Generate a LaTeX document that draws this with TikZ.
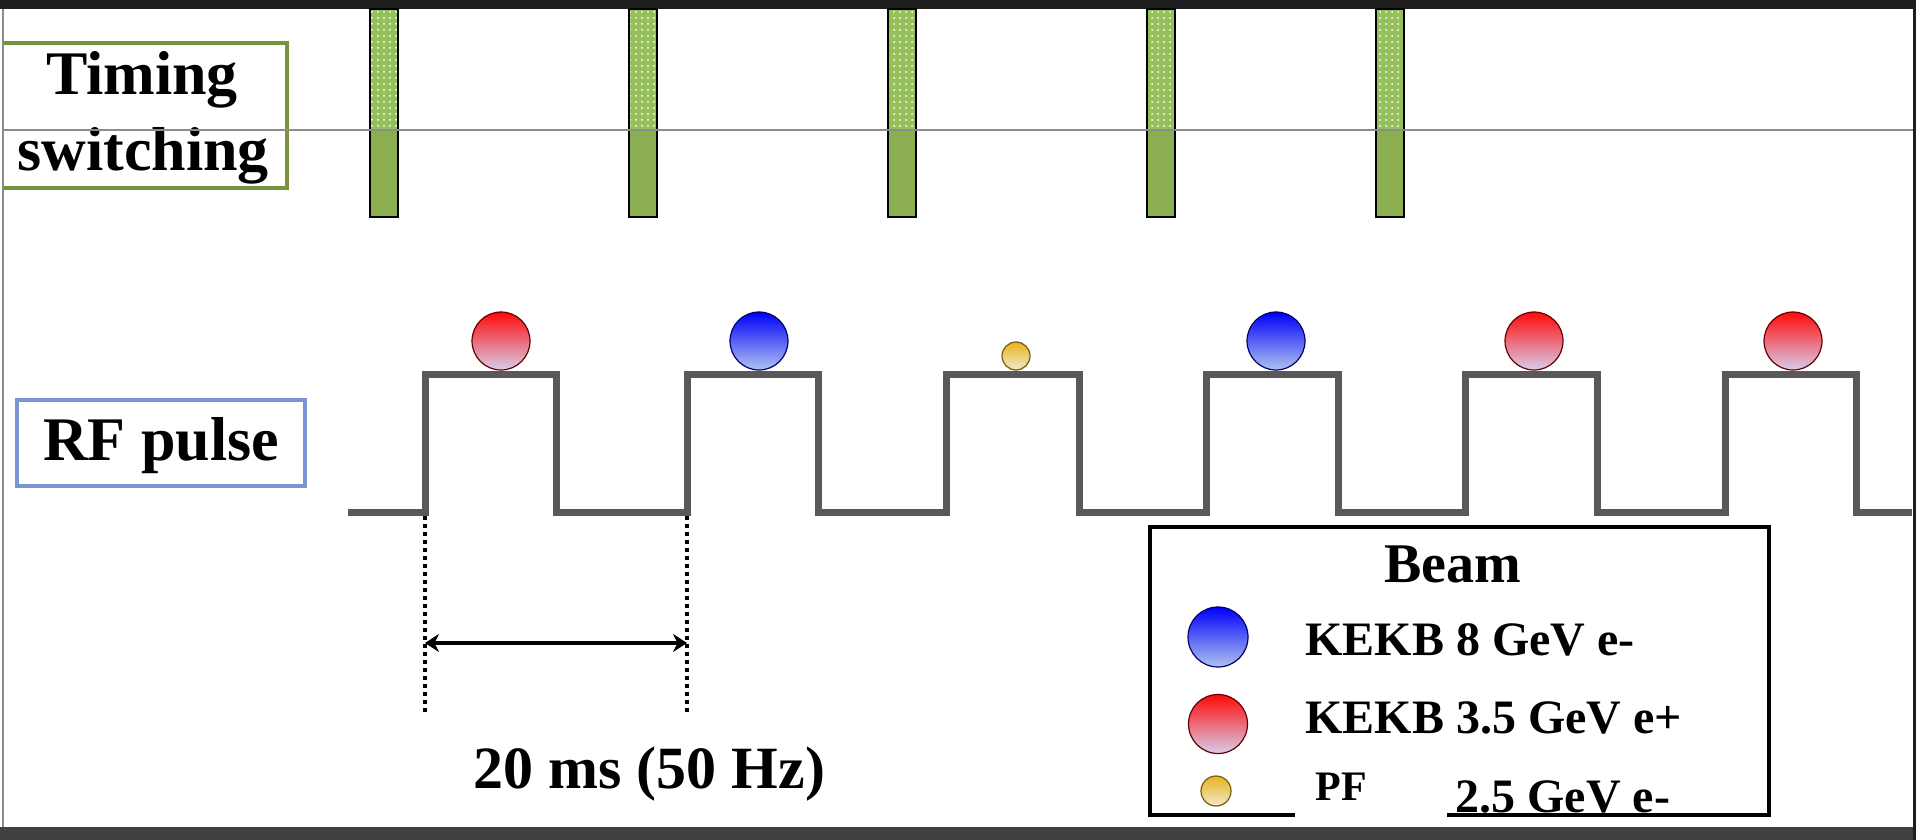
\documentclass[tikz,border=0pt]{standalone}
\usepackage{fontspec}
\setmainfont{Liberation Serif}
\usetikzlibrary{arrows.meta,patterns}
\definecolor{bandc}{RGB}{30,30,30}
\definecolor{tgreen}{RGB}{119,147,60}
\definecolor{rfblue}{RGB}{120,150,210}
\definecolor{wavec}{RGB}{89,89,89}
\definecolor{barup}{RGB}{150,192,92}
\definecolor{barlow}{RGB}{138,174,80}
\definecolor{linegray}{RGB}{140,140,140}
\definecolor{redtop}{RGB}{255,10,10}
\definecolor{redbot}{RGB}{215,205,235}
\definecolor{bluetop}{RGB}{0,0,250}
\definecolor{bluebot}{RGB}{175,195,240}
\definecolor{yeltop}{RGB}{232,180,30}
\definecolor{yelbot}{RGB}{240,232,200}
\begin{document}
\begin{tikzpicture}[x=0.5pt,y=-0.5pt,
  lbl/.style={inner sep=0pt, font=\bfseries\fontsize{31}{36}\selectfont},
  leg/.style={inner sep=0pt, font=\bfseries\fontsize{24}{28}\selectfont},
  ballbase/.style={circle, inner sep=0pt, line width=0.6pt},
  redball/.style={ballbase, minimum size=29pt, draw=red!40!black, top color=redtop, bottom color=redbot},
  blueball/.style={ballbase, minimum size=29pt, draw=blue!40!black, top color=bluetop, bottom color=bluebot},
  yelball/.style={ballbase, minimum size=14pt, draw=yeltop!50!black, top color=yeltop, bottom color=yelbot},
  wave/.style={draw=wavec, line width=3.5pt, line join=miter},
  dotline/.style={draw=black, line width=2pt, dash pattern=on 2pt off 2pt},
  dimarrow/.style={draw=black, line width=2pt, {Stealth[length=7pt,width=9pt]}-{Stealth[length=7pt,width=9pt]}},
  bar/.style={draw=black, line width=0.8pt}
]
\useasboundingbox (0,0) rectangle (1916,840);
\fill[white] (0,0) rectangle (1916,840);

% frame bands
\fill[bandc] (0,0) rectangle (1916,9);
\fill[bandc!85!white] (0,827) rectangle (1916,840);
\fill[bandc] (1913,0) rectangle (1916,840);
\draw[linegray, line width=0.7pt] (3,9) -- (3,827);

% Timing switching box
\draw[tgreen, line width=1.6pt] (3,43) -- (287,43) -- (287,188) -- (3,188);
\node[lbl, anchor=base] (timing) at (142,95) {Timing};
\node[lbl, anchor=base] (switching) at (143,170) {switching};

% timing bars
\foreach \x/\n in {370/1,629/2,888/3,1147/4,1376/5}{
  \fill[barlow] (\x,9) rectangle ++(28,208);
  \fill[barup] (\x,9) rectangle ++(28,121);
  \fill[pattern=dots, pattern color=white] (\x,9) rectangle ++(28,121);
  \draw[bar] (\x,9) rectangle ++(28,208);
}

% gray separator line
\draw[linegray, line width=0.7pt] (3,130) -- (1913,130);

% RF pulse box
\draw[rfblue, line width=1.6pt] (17,400) rectangle (305,486);
\node[lbl, anchor=base] (rf) at (161,460) {RF pulse};

% RF waveform
\draw[wave] (348,512) -- (425,512) -- (425,374) -- (556,374) -- (556,512)
  -- (687,512) -- (687,374) -- (818,374) -- (818,512)
  -- (946,512) -- (946,374) -- (1079,374) -- (1079,512)
  -- (1206,512) -- (1206,374) -- (1338,374) -- (1338,512)
  -- (1465,512) -- (1465,374) -- (1597,374) -- (1597,512)
  -- (1725,512) -- (1725,374) -- (1856,374) -- (1856,512)
  -- (1912,512);

% beams on pulses
\node[redball] (b1) at (501,341) {};
\node[blueball] (b2) at (759,341) {};
\node[yelball] (b3) at (1016,356) {};
\node[blueball] (b4) at (1276,341) {};
\node[redball] (b5) at (1534,341) {};
\node[redball] (b6) at (1793,341) {};

% period marker
\coordinate (d1t) at (425,516);
\coordinate (d1b) at (425,713);
\coordinate (d2t) at (687,516);
\coordinate (d2b) at (687,713);
\draw[dotline] (d1t) -- (d1b);
\draw[dotline] (d2t) -- (d2b);
\coordinate (a1) at (425,643);
\coordinate (a2) at (687,643);
\draw[dimarrow] (a1) -- (a2);
\node[lbl, anchor=base west, font=\bfseries\fontsize{30}{36}\selectfont] (period) at (473,788) {20 ms (50 Hz)};

% legend
\fill[white] (1295,760) rectangle (1447,822);
\draw[black, line width=1.8pt] (1295,815) -- (1150,815) -- (1150,527) -- (1769,527) -- (1769,815) -- (1447,815);
\node[lbl, anchor=base, font=\bfseries\fontsize{28}{32}\selectfont] (beam) at (1453,582) {Beam};
\node[blueball, minimum size=30pt] (lb) at (1218,637) {};
\node[leg, anchor=base west] (lbt) at (1305,655) {KEKB 8 GeV e-};
\node[redball, minimum size=29.5pt] (lr) at (1218,724) {};
\node[leg, anchor=base west] (lrt) at (1305,733) {KEKB 3.5 GeV e+};
\node[yelball, minimum size=15pt] (ly) at (1216,791) {};
\node[leg, anchor=base west, font=\bfseries\fontsize{21}{25}\selectfont] (lpf) at (1315,800) {PF};
\node[leg, anchor=base west] (lyt) at (1455,812) {2.5 GeV e-};
\end{tikzpicture}
\end{document}
